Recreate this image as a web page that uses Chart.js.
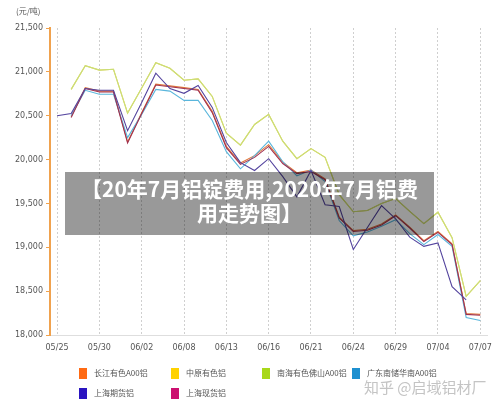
<!DOCTYPE html>
<html>
<head>
<meta charset="utf-8">
<script src="https://cdn.jsdelivr.net/npm/chart.js@4.4.0/dist/chart.umd.min.js"></script>
<style>
  html, body { margin: 0; padding: 0; background: #fff; }
  #wrap { position: relative; width: 500px; height: 408px; overflow: hidden; font-family: "DejaVu Sans", "Noto Sans CJK SC", sans-serif; }
  #c { position: absolute; left: 0; top: 0; }
  #unit { position: absolute; left: 16px; top: 5px; font-size: 8px; color: #555; font-family: "Noto Sans CJK SC", sans-serif; }
  #legend { position: absolute; left: 0; top: 0; width: 500px; height: 408px; pointer-events: none; }
  .li { position: absolute; font-size: 8px; color: #555; font-family: "Noto Sans CJK SC", sans-serif; white-space: nowrap; }
  .sw { position: absolute; width: 8px; height: 11px; }
  #wm { position: absolute; left: 364px; top: 376px; font-size: 15px; color: #c4c4c4; font-family: "Noto Sans CJK SC", sans-serif; white-space: nowrap; }
  #banner { position: absolute; left: 65px; top: 172px; width: 369px; height: 63px; background: rgba(0,0,0,0.4); color: #fff; font-weight: bold; font-size: 21px; line-height: 24px; text-align: center; padding-top: 4px; box-sizing: border-box; font-family: "Noto Sans CJK SC", sans-serif; white-space: nowrap; }
</style>
</head>
<body>
<div id="wrap">
  <canvas id="c" width="500" height="408"></canvas>
  <div id="unit">(元/吨)</div>
  <div id="legend"></div>
  <div id="wm">知乎 @启域铝材厂</div>
  <div id="banner">【20年7月铝锭费用,2020年7月铝费<br>用走势图】</div>
</div>
<script>
// ---- data (元/吨) ----
const categories = ['05/25','','','05/30','','','06/02','','','06/08','','','06/13','','','06/16','','','06/21','','','06/24','','','06/29','','','07/04','','','07/07'];
const tickLabels = ['05/25','05/30','06/02','06/08','06/13','06/16','06/21','06/24','06/29','07/04','07/07'];
const yTicks = [18000, 18500, 19000, 19500, 20000, 20500, 21000, 21500];

const seriesNames = ['长江有色A00铝','中原有色铝','南海有色佛山A00铝','广东南储华南A00铝','上海期货铝','上海现货铝'];

const changjiang = [null, 20490, 20820, 20780, 20780, 20200, 20535, 20860, 20840, 20820, 20800, 20550, 20150, 19960, 20045, 20170, 19970, 19850, 19880, 19780, 19345, 19190, 19205, 19265, 19370, 19230, 19075, 19180, 19040, 18245, 18235];
const zhongyuan  = [null, 20800, 21070, 21020, 21030, 20530, 20815, 21105, 21040, 20905, 20920, 20720, 20300, 20165, 20400, 20515, 20210, 20010, 20125, 20025, 19600, 19405, 19420, 19500, 19555, 19410, 19270, 19400, 19110, 18440, 18620];
const nanhai     = [null, 20800, 21070, 21020, 21030, 20530, 20815, 21105, 21040, 20905, 20920, 20720, 20300, 20165, 20400, 20515, 20210, 20010, 20125, 20025, 19600, 19405, 19420, 19500, 19555, 19410, 19270, 19400, 19110, 18440, 18620];
const guangdong  = [null, 20500, 20790, 20745, 20745, 20250, 20515, 20800, 20780, 20675, 20675, 20445, 20090, 19895, 20045, 20210, 19975, 19815, 19880, 19750, 19305, 19130, 19175, 19240, 19315, 19155, 19030, 19145, 19010, 18200, 18165];
const shfe       = [20500, 20525, 20810, 20790, 20790, 20330, 20650, 20985, 20810, 20755, 20845, 20595, 20195, 19965, 19875, 20010, 19805, 19575, 19875, 19485, 19465, 18975, 19225, 19475, 19325, 19115, 19010, 19050, 18550, 18400, null];
const spot       = [null, 20480, 20810, 20770, 20770, 20190, 20525, 20850, 20830, 20810, 20790, 20535, 20135, 19945, 20025, 20150, 19955, 19840, 19865, 19770, 19335, 19180, 19195, 19255, 19360, 19220, 19065, 19170, 19030, 18235, 18225];

// ---- styles ----
const legendColors = ['#ff6a13', '#ffd200', '#a8d81a', '#1e90d0', '#2a14c0', '#cc1070'];
const lineColors   = ['#e0783a', '#e8d25a', '#cadf78', '#5ab6dc', '#54449e', '#a03050'];
const drawOrder    = [5, 6, 1, 4, 2, 3];

const seriesData = [changjiang, zhongyuan, nanhai, guangdong, shfe, spot];
const datasets = seriesData.map((d, i) => ({
  label: seriesNames[i],
  data: d,
  borderColor: lineColors[i],
  backgroundColor: legendColors[i],
  borderWidth: 1.1,
  pointRadius: 0,
  pointHoverRadius: 0,
  tension: 0,
  fill: false,
  spanGaps: false,
  order: drawOrder[i]
}));

// HTML legend
const legendPos = [[79, 368], [171, 368], [262, 368], [352, 368], [79, 388], [171, 388]];
const leg = document.getElementById('legend');
seriesNames.forEach((n, i) => {
  const sw = document.createElement('div');
  sw.className = 'sw';
  sw.style.left = legendPos[i][0] + 'px';
  sw.style.top = legendPos[i][1] + 'px';
  sw.style.background = legendColors[i];
  leg.appendChild(sw);
  const t = document.createElement('div');
  t.className = 'li';
  t.style.left = (legendPos[i][0] + 15) + 'px';
  t.style.top = (legendPos[i][1] - 1) + 'px';
  t.textContent = n;
  leg.appendChild(t);
});

new Chart(document.getElementById('c'), {
  type: 'line',
  data: { labels: categories, datasets },
  options: {
    responsive: false,
    animation: false,
    events: [],
    layout: { padding: { left: 0, right: 12, top: 28, bottom: 53 } },
    plugins: { legend: { display: false }, tooltip: { enabled: false }, title: { display: false } },
    scales: {
      x: {
        type: 'category',
        offset: true,
        afterFit: (s) => { s.height = 20; },
        border: { display: true, color: '#dedede', width: 1, dash: [2, 2] },
        grid: {
          offset: false,
          drawTicks: false,
          color: (ctx) => (ctx.tick && tickLabels.includes(categories[ctx.index]) ? '#cfcfcf' : 'rgba(0,0,0,0)'),
          lineWidth: 1
        },
        ticks: {
          autoSkip: false,
          maxRotation: 0,
          padding: 8,
          color: '#555',
          font: { family: 'DejaVu Sans', size: 8 },
          callback: (v, i) => categories[i]
        }
      },
      y: {
        min: 18000,
        max: 21500,
        afterFit: (s) => { s.width = 50; },
        afterBuildTicks: (s) => { s.ticks = yTicks.map(v => ({ value: v })); },
        border: { display: true, color: '#f0a24e', width: 2 },
        grid: { drawOnChartArea: false, drawTicks: true, tickLength: 4, color: '#f0a24e', lineWidth: 1 },
        ticks: {
          padding: 3,
          color: '#555',
          font: { family: 'DejaVu Sans', size: 8 },
          callback: (v) => v.toLocaleString('en-US')
        }
      }
    }
  }
});
</script>
</body>
</html>
